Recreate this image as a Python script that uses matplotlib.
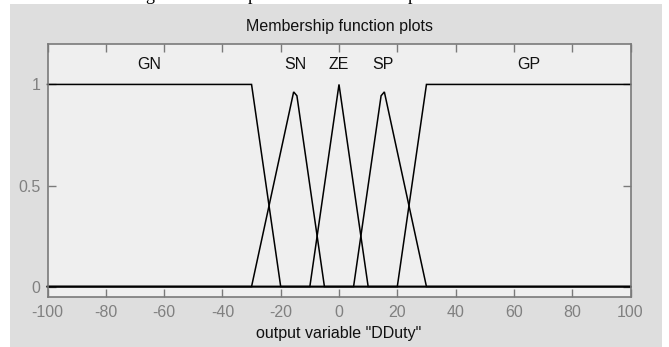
import matplotlib
matplotlib.use("Agg")
import matplotlib.pyplot as plt
from matplotlib.patches import Rectangle

# ---- data ----
mf_names = ["GN", "SN", "ZE", "SP", "GP"]
GN_x = [-100, -30, -20, 100]
GN_y = [1, 1, 0, 0]
SN_x = [-100, -30, -15.56, -14.44, -5, 100]
SN_y = [0, 0, 0.963, 0.944, 0, 0]
ZE_x = [-100, -10, 0, 10, 100]
ZE_y = [0, 0, 1, 0, 0]
SP_x = [-100, 5, 14.44, 15.56, 30, 100]
SP_y = [0, 0, 0.944, 0.963, 0, 0]
GP_x = [-100, 20, 30, 100]
GP_y = [0, 0, 1, 1]
label_x = [-65, -15, 0, 15, 65]
label_y = [1.1, 1.1, 1.1, 1.1, 1.1]
x_ticks = [-100, -80, -60, -40, -20, 0, 20, 40, 60, 80, 100]
y_ticks = [0, 0.5, 1]
y_ticklabels = ["0", "0.5", "1"]

plt.rcParams['font.family'] = ['Liberation Sans', 'DejaVu Sans']
plt.rcParams['axes.unicode_minus'] = False

W, H = 669, 347
fig = plt.figure(figsize=(W / 100, H / 100), dpi=100)
fig.patch.set_facecolor('white')

# cut-off caption text from the page above (only descenders visible)
for ch, px in [("g", 150), ("p", 252), ("p", 412)]:
    fig.text(px / W, 1 - 0.5 / H, ch, family=['Liberation Serif', 'DejaVu Serif'],
             fontsize=13, ha='center', va='baseline', color='black', zorder=0)

# grey figure panel
fig.patches.append(Rectangle((10 / W, 0), (662 - 10) / W, (H - 4) / H,
                             transform=fig.transFigure, facecolor='#dedede',
                             edgecolor='none', zorder=1))

ax = fig.add_axes([47.5 / W, (H - 296.7) / H, (630.5 - 47.5) / W, (296.7 - 44) / H])
ax.set_zorder(2)
ax.set_facecolor('#efefef')

for xs, ys in [(GN_x, GN_y), (SN_x, SN_y), (ZE_x, ZE_y), (SP_x, SP_y), (GP_x, GP_y)]:
    ax.plot(xs, ys, color='black', lw=1.1, solid_joinstyle='miter', clip_on=False)

for name, lx, ly in zip(mf_names, label_x, label_y):
    ax.text(lx, ly, name, ha='center', va='center', fontsize=11.5, color='#111111')

ax.set_xlim(-100, 100)
ax.set_ylim(-0.05, 1.2)
ax.set_xticks(x_ticks)
ax.set_yticks(y_ticks)
ax.set_yticklabels(y_ticklabels)
ax.tick_params(direction='in', length=6, width=1, color='#7a7a7a',
               labelcolor='#808080', labelsize=11.5, top=True, right=True)
ax.tick_params(axis='x', pad=6)
ax.tick_params(axis='y', pad=5)
for s in ax.spines.values():
    s.set_color('#7a7a7a')
    s.set_linewidth(1.2)

ax.set_title('Membership function plots', fontsize=11.5, color='#111111', pad=9)
ax.set_xlabel('output variable "DDuty"', fontsize=11.5, color='#111111', labelpad=4)

fig.savefig('out.png', dpi=100, facecolor=fig.get_facecolor())
